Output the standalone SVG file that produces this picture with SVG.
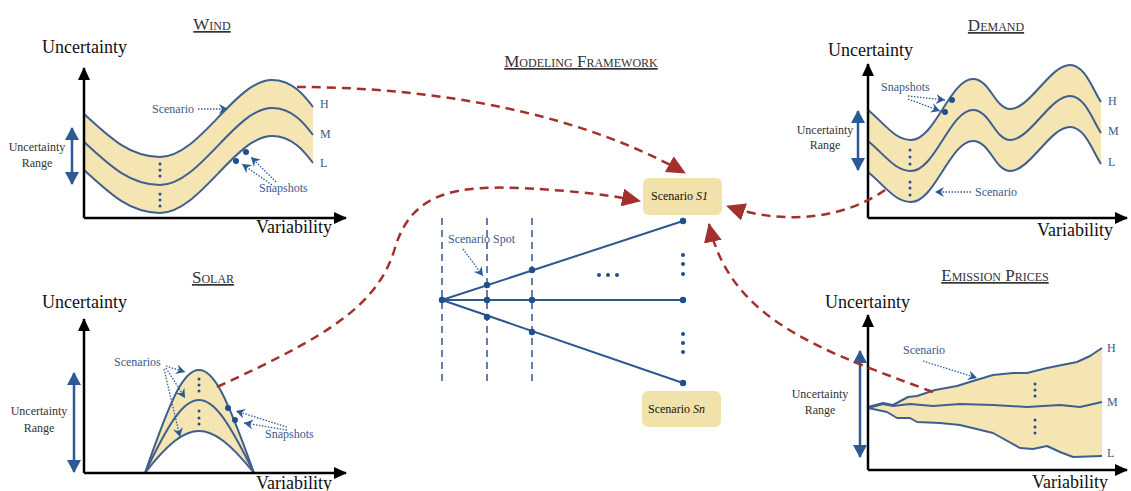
<svg xmlns="http://www.w3.org/2000/svg" width="1131" height="491" viewBox="0 0 1131 491">
  <defs>
    <marker id="axisHead" markerUnits="userSpaceOnUse" markerWidth="14" markerHeight="12" refX="12" refY="6" orient="auto">
      <path d="M0,0 L13,6 L0,12 Z" fill="#000"/>
    </marker>
    <marker id="redHead" markerUnits="userSpaceOnUse" markerWidth="20" markerHeight="18" refX="18" refY="9" orient="auto">
      <path d="M0,0 L19,9 L0,18 Z" fill="#a3302c"/>
    </marker>
    <marker id="rangeHead" markerUnits="userSpaceOnUse" markerWidth="14" markerHeight="14" refX="12" refY="7" orient="auto-start-reverse">
      <path d="M0,0 L13,7 L0,14 Z" fill="#2d5a94"/>
    </marker>
    <marker id="tipHead" markerUnits="userSpaceOnUse" markerWidth="10" markerHeight="10" refX="9" refY="5" orient="auto">
      <path d="M0,0 L9,5 L0,10 L3,5 Z" fill="#2d5a94"/>
    </marker>
  </defs>
  <style>
    .title { font-family: "Liberation Serif", serif; font-size: 17px; font-variant: small-caps; fill: #333; text-decoration: underline; text-anchor: middle; }
    .axisLbl { font-family: "Liberation Serif", serif; font-size: 18px; fill: #111; }
    .lbl { font-family: "Liberation Serif", serif; font-size: 12px; fill: #3a5a8c; }
    .rng { font-family: "Liberation Serif", serif; font-size: 12px; fill: #333; text-anchor: middle; }
    .hml { font-family: "Liberation Serif", serif; font-size: 12px; fill: #3a5a8c; }
    .box { fill: #f1e2ab; }
    .boxTxt { font-family: "Liberation Serif", serif; font-size: 12px; fill: #111; }
    .axis { stroke: #000; stroke-width: 2.5; fill: none; marker-end: url(#axisHead); }
    .band { fill: #f4e5b3; stroke: none; }
    .curve { fill: none; stroke: #3f5f8f; stroke-width: 2; stroke-linejoin: round; }
    .range { stroke: #2d5a94; stroke-width: 2.5; marker-start: url(#rangeHead); marker-end: url(#rangeHead); }
    .tip { stroke: #2d5a94; stroke-width: 1.3; stroke-dasharray: 1.5 1.5; fill: none; marker-end: url(#tipHead); }
    .dot { fill: #1f4f8f; }
    .link { fill: none; stroke: #a3302c; stroke-width: 2.5; stroke-dasharray: 9 6; marker-end: url(#redHead); }
    .branch { stroke: #2e5790; stroke-width: 2; fill: none; }
    .stage { stroke: #2e5790; stroke-width: 1.5; stroke-dasharray: 7 5; }
  </style>
  <rect width="1131" height="491" fill="#fff"/>

  <!-- Wind -->
  <g id="wind">
    <text class="title" x="212" y="30">Wind</text>
    <text class="axisLbl" x="42" y="53">Uncertainty</text>
    <path class="band" d="M84,114 C110,138 130,157 160,157 C200,157 235,80 272,80 C292,80 304,95 313,107 L313,163 C304,151 292,136 272,136 C235,136 200,213 160,213 C130,213 110,194 84,170 Z"/>
    <path class="curve" d="M84,114 C110,138 130,157 160,157 C200,157 235,80 272,80 C292,80 304,95 313,107"/>
    <path class="curve" d="M84,142 C110,166 130,185 160,185 C200,185 235,108 272,108 C292,108 304,123 313,135"/>
    <path class="curve" d="M84,170 C110,194 130,213 160,213 C200,213 235,136 272,136 C292,136 304,151 313,163"/>
    <path class="axis" d="M84,218 V68"/>
    <path class="axis" d="M84,218 H346"/>
    <text class="axisLbl" x="256" y="233">Variability</text>
    <text class="hml" x="320" y="108">H</text>
    <text class="hml" x="320" y="138">M</text>
    <text class="hml" x="320" y="167">L</text>
    <circle class="dot" cx="160" cy="164" r="1.5"/><circle class="dot" cx="160" cy="170" r="1.5"/><circle class="dot" cx="160" cy="176" r="1.5"/>
    <circle class="dot" cx="160" cy="194" r="1.5"/><circle class="dot" cx="160" cy="200" r="1.5"/><circle class="dot" cx="160" cy="206" r="1.5"/>
    <text class="lbl" x="152" y="113">Scenario</text>
    <path class="tip" d="M198,109 H228"/>
    <text class="rng" x="37" y="151">Uncertainty</text>
    <text class="rng" x="37" y="167">Range</text>
    <line class="range" x1="72" y1="128" x2="72" y2="184"/>
    <circle class="dot" cx="236" cy="161" r="3"/>
    <circle class="dot" cx="246" cy="152" r="3"/>
    <text class="lbl" x="259" y="192">Snapshots</text>
    <path class="tip" d="M276,182 L251,157"/>
    <path class="tip" d="M272,185 L242,164"/>
  </g>

  <!-- Solar -->
  <g id="solar">
    <text class="title" x="213" y="283">Solar</text>
    <text class="axisLbl" x="42" y="308">Uncertainty</text>
    <path class="band" d="M145,473 C172,395 184,370 199,370 C214,370 226,395 254,473 C230,443 214,431 199,431 C184,431 168,443 145,473 Z"/>
    <path class="curve" d="M145,473 C172,395 184,370 199,370 C214,370 226,395 254,473"/>
    <path class="curve" d="M145,473 C170,420 184,400 199,400 C214,400 228,420 254,473"/>
    <path class="curve" d="M145,473 C168,443 184,431 199,431 C214,431 230,443 254,473"/>
    <path class="axis" d="M84,473 V319"/>
    <path class="axis" d="M84,473 H346"/>
    <text class="axisLbl" x="256" y="489">Variability</text>
    <circle class="dot" cx="199" cy="379" r="1.5"/><circle class="dot" cx="199" cy="385" r="1.5"/><circle class="dot" cx="199" cy="391" r="1.5"/>
    <circle class="dot" cx="199" cy="411" r="1.5"/><circle class="dot" cx="199" cy="418" r="1.5"/><circle class="dot" cx="199" cy="424" r="1.5"/>
    <text class="lbl" x="114" y="366">Scenarios</text>
    <path class="tip" d="M166,366 L185,372"/>
    <path class="tip" d="M166,368 L185,398"/>
    <path class="tip" d="M164,369 L180,437"/>
    <text class="rng" x="39" y="415">Uncertainty</text>
    <text class="rng" x="39" y="432">Range</text>
    <line class="range" x1="74" y1="373" x2="74" y2="472"/>
    <circle class="dot" cx="228" cy="408" r="3"/>
    <circle class="dot" cx="235" cy="420" r="3"/>
    <text class="lbl" x="265" y="438">Snapshots</text>
    <path class="tip" d="M287,427 L236,411"/>
    <path class="tip" d="M287,430 L244,423"/>
  </g>

  <!-- Demand -->
  <g id="demand">
    <text class="title" x="996" y="31">Demand</text>
    <text class="axisLbl" x="828" y="56">Uncertainty</text>
    <path class="band" d="M868,110 C885,124 895,140 911,140 C935,140 950,79 973,79 C990,79 995,109 1010,109 C1030,109 1050,65 1070,65 C1085,65 1093,90 1101,102 L1101,164 C1093,152 1085,127 1070,127 C1050,127 1030,171 1010,171 C995,171 990,141 973,141 C950,141 935,202 911,202 C895,202 885,186 868,172 Z"/>
    <path class="curve" d="M868,110 C885,124 895,140 911,140 C935,140 950,79 973,79 C990,79 995,109 1010,109 C1030,109 1050,65 1070,65 C1085,65 1093,90 1101,102"/>
    <path class="curve" d="M868,141 C885,155 895,171 911,171 C935,171 950,110 973,110 C990,110 995,140 1010,140 C1030,140 1050,96 1070,96 C1085,96 1093,121 1101,133"/>
    <path class="curve" d="M868,172 C885,186 895,202 911,202 C935,202 950,141 973,141 C990,141 995,171 1010,171 C1030,171 1050,127 1070,127 C1085,127 1093,152 1101,164"/>
    <path class="axis" d="M868,218 V64"/>
    <path class="axis" d="M868,218 H1127"/>
    <text class="axisLbl" x="1037" y="236">Variability</text>
    <text class="hml" x="1108" y="105">H</text>
    <text class="hml" x="1108" y="135">M</text>
    <text class="hml" x="1108" y="166">L</text>
    <circle class="dot" cx="910" cy="150" r="1.5"/><circle class="dot" cx="910" cy="157" r="1.5"/><circle class="dot" cx="910" cy="164" r="1.5"/>
    <circle class="dot" cx="910" cy="182" r="1.5"/><circle class="dot" cx="910" cy="188" r="1.5"/><circle class="dot" cx="910" cy="195" r="1.5"/>
    <text class="lbl" x="881" y="91">Snapshots</text>
    <path class="tip" d="M908,96 L945,100"/>
    <path class="tip" d="M908,99 L940,111"/>
    <circle class="dot" cx="952" cy="100" r="3"/>
    <circle class="dot" cx="945" cy="112" r="3"/>
    <text class="lbl" x="975" y="196">Scenario</text>
    <path class="tip" d="M971,192 H935"/>
    <text class="rng" x="825" y="134">Uncertainty</text>
    <text class="rng" x="825" y="149">Range</text>
    <line class="range" x1="858" y1="111" x2="858" y2="170"/>
  </g>

  <!-- Emission prices -->
  <g id="emission">
    <text class="title" x="995" y="281">Emission Prices</text>
    <text class="axisLbl" x="825" y="308">Uncertainty</text>
    <path class="band" d="M868,407 L883,403 L893,405 L908,397 L917,396 L935,390 L957,386 L973,381 L993,375 L1013,373 L1027,373 L1047,368 L1077,362 L1090,356 L1102,348 L1102,456 L1073,457 L1060,452 L1047,446 L1033,449 L1020,448 L993,433 L960,425 L940,423 L917,422 L910,418 L897,418 L887,412 Z"/>
    <path class="curve" d="M868,407 L883,403 L893,405 L908,397 L917,396 L935,390 L957,386 L973,381 L993,375 L1013,373 L1027,373 L1047,368 L1077,362 L1090,356 L1102,348"/>
    <path class="curve" d="M868,408 L883,404 L893,406 L910,404 L933,406 L960,404 L993,405 L1027,407 L1060,405 L1080,407 L1102,402"/>
    <path class="curve" d="M868,408 L887,412 L897,418 L910,418 L917,422 L940,423 L960,425 L993,433 L1020,448 L1033,449 L1047,446 L1060,452 L1073,457 L1102,456"/>
    <path class="axis" d="M868,470 V315"/>
    <path class="axis" d="M868,470 H1127"/>
    <text class="axisLbl" x="1032" y="488">Variability</text>
    <text class="hml" x="1107" y="352">H</text>
    <text class="hml" x="1107" y="406">M</text>
    <text class="hml" x="1107" y="457">L</text>
    <circle class="dot" cx="1035" cy="384" r="1.5"/><circle class="dot" cx="1035" cy="390" r="1.5"/><circle class="dot" cx="1035" cy="396" r="1.5"/>
    <circle class="dot" cx="1035" cy="420" r="1.5"/><circle class="dot" cx="1035" cy="427" r="1.5"/><circle class="dot" cx="1035" cy="433" r="1.5"/>
    <text class="lbl" x="903" y="354">Scenario</text>
    <path class="tip" d="M923,361 L977,378"/>
    <text class="rng" x="820" y="398">Uncertainty</text>
    <text class="rng" x="820" y="414">Range</text>
    <line class="range" x1="860" y1="351" x2="860" y2="457"/>
  </g>

  <!-- Modeling framework: scenario tree -->
  <g id="framework">
    <text class="title" x="581" y="67">Modeling Framework</text>
    <line class="stage" x1="442" y1="218" x2="442" y2="382"/>
    <line class="stage" x1="487" y1="218" x2="487" y2="382"/>
    <line class="stage" x1="532" y1="218" x2="532" y2="382"/>
    <path class="branch" d="M442,300 L683,221"/>
    <path class="branch" d="M442,300 H683"/>
    <path class="branch" d="M442,300 L683,383"/>
    <circle class="dot" cx="442" cy="300" r="3.2"/>
    <circle class="dot" cx="487" cy="285" r="3.2"/><circle class="dot" cx="532" cy="270" r="3.2"/>
    <circle class="dot" cx="487" cy="300" r="3.2"/><circle class="dot" cx="532" cy="300" r="3.2"/>
    <circle class="dot" cx="487" cy="317" r="3.2"/><circle class="dot" cx="532" cy="332" r="3.2"/>
    <circle class="dot" cx="683" cy="221" r="3.2"/><circle class="dot" cx="683" cy="300" r="3.2"/><circle class="dot" cx="683" cy="383" r="3.2"/>
    <circle class="dot" cx="599" cy="275" r="2"/><circle class="dot" cx="608" cy="275" r="2"/><circle class="dot" cx="617" cy="275" r="2"/>
    <circle class="dot" cx="683" cy="255" r="2"/><circle class="dot" cx="683" cy="264" r="2"/><circle class="dot" cx="683" cy="274" r="2"/>
    <circle class="dot" cx="683" cy="334" r="2"/><circle class="dot" cx="683" cy="343" r="2"/><circle class="dot" cx="683" cy="352" r="2"/>
    <text class="lbl" x="448" y="243">Scenario Spot</text>
    <path class="tip" d="M463,249 L483,276"/>
  </g>

  <g id="scenarioS1">
    <rect class="box" x="643" y="178" width="79" height="37" rx="6"/>
    <text class="boxTxt" x="651" y="200">Scenario <tspan font-style="italic">S1</tspan></text>
  </g>
  <g id="scenarioSn">
    <rect class="box" x="642" y="391" width="79" height="36" rx="6"/>
    <text class="boxTxt" x="648" y="413">Scenario <tspan font-style="italic">Sn</tspan></text>
  </g>

  <!-- Connectors from each source into scenario S1 -->
  <g id="connectors">
    <path class="link" d="M297,87 C420,87 570,108 685,173"/>
    <path class="link" d="M217,387 C330,335 378,305 395,248 C412,190 460,186 520,188 C580,191 615,196 640,201"/>
    <path class="link" d="M885,190 C850,215 790,228 727,206"/>
    <path class="link" d="M933,392 C820,350 730,320 709,224"/>
  </g>
</svg>
